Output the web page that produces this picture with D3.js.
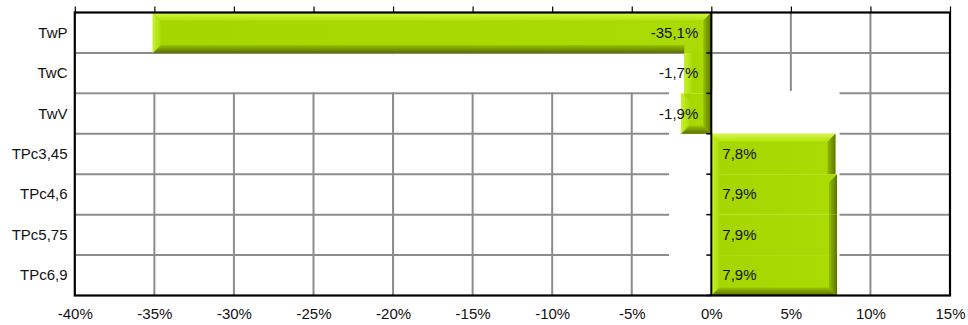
<!DOCTYPE html>
<html>
<head>
<meta charset="utf-8">
<script src="https://cdn.jsdelivr.net/npm/d3@7/dist/d3.min.js"></script>
<style>
  html, body { margin: 0; padding: 0; background: #fff; }
  svg { display: block; }
  text { font-family: "Liberation Sans", Arial, sans-serif; fill: #111; }
</style>
</head>
<body>
<script>
// Change per configuration (fraction)
const categories = ["TwP", "TwC", "TwV", "TPc3,45", "TPc4,6", "TPc5,75", "TPc6,9"];
const values = [-0.351, -0.017, -0.019, 0.078, 0.079, 0.079, 0.079];
const valueLabels = ["-35,1%", "-1,7%", "-1,9%", "7,8%", "7,9%", "7,9%", "7,9%"];
const tickValues = [-0.40, -0.35, -0.30, -0.25, -0.20, -0.15, -0.10, -0.05, 0, 0.05, 0.10, 0.15];
const tickLabels = ["-40%", "-35%", "-30%", "-25%", "-20%", "-15%", "-10%", "-5%", "0%", "5%", "10%", "15%"];

const W = 968, H = 325;
const plot = { left: 74.8, right: 950, top: 12.5, bottom: 295.5 };

const svg = d3.select("body").append("svg")
  .attr("width", W).attr("height", H);

const x = d3.scaleLinear().domain([-0.40, 0.15]).range([plot.left, plot.right]);
const y = d3.scaleBand().domain(categories).range([plot.top, plot.bottom]).padding(0);

// ---- gradients for the bevelled bar edges
const defs = svg.append("defs");
function grad(id, x1, y1, x2, y2, c1, c2) {
  const g = defs.append("linearGradient").attr("id", id)
    .attr("x1", x1).attr("y1", y1).attr("x2", x2).attr("y2", y2);
  g.append("stop").attr("offset", "0%").attr("stop-color", c1);
  g.append("stop").attr("offset", "100%").attr("stop-color", c2);
}
grad("bevTop", 0, 0, 0, 1, "#d6f74a", "#b2e20c");
grad("bevBottom", 0, 1, 0, 0, "#586f00", "#98c300");
grad("bevLeft", 0, 0, 1, 0, "#c8f030", "#abdc06");
grad("bevRight", 1, 0, 0, 0, "#5c7500", "#93bd00");
grad("face", 0, 0, 1, 0, "#a6d600", "#aadb04");

// ---- grid
const grid = svg.append("g");
grid.selectAll("line.v").data(tickValues.slice(1, -1)).join("line")
  .attr("x1", d => x(d)).attr("x2", d => x(d))
  .attr("y1", plot.top).attr("y2", plot.bottom)
  .attr("stroke", "#8c8c8c").attr("stroke-width", 2);
grid.selectAll("line.h").data(categories.slice(1)).join("line")
  .attr("x1", plot.left).attr("x2", plot.right)
  .attr("y1", d => y(d)).attr("y2", d => y(d))
  .attr("stroke", "#8c8c8c").attr("stroke-width", 2);

// ---- white knockouts that break the grid around the short bars
const knock = svg.append("g").attr("fill", "#fff");
// the TwC row is clear on the negative side
knock.append("rect")
  .attr("x", x(-0.40) + 1.5).attr("y", y("TwC") + 1.2)
  .attr("width", x(0) - x(-0.40) - 1.5).attr("height", y.bandwidth() - 2.4);
// a clear block around the small bars from TwV downwards
const lowVals = values.slice(2);
const kx0 = x(d3.min(lowVals)) - 12, kx1 = x(d3.max(lowVals)) + 2.5;
knock.append("rect")
  .attr("x", kx0).attr("y", y("TwV") - 2.5)
  .attr("width", kx1 - kx0).attr("height", plot.bottom - y("TwV") + 1.5);

// ---- bars with bevelled edges
const bars = svg.append("g");
const D = 8;
values.forEach((v, i) => {
  const y0 = y(categories[i]), y1 = y0 + y.bandwidth();
  const x0 = Math.min(x(v), x(0)), x1 = Math.max(x(v), x(0));
  const d = Math.min(D, (x1 - x0) / 2, (y1 - y0) / 2);
  const sameSign = (j) => j >= 0 && j < values.length && Math.sign(values[j]) === Math.sign(v);
  // exposed span of an edge shared with a neighbour of the same sign
  function exposed(j) {
    if (!sameSign(j)) return [x0, x1];
    if (Math.abs(values[j]) >= Math.abs(v)) return null;
    return v < 0 ? [x0, x(values[j])] : [x(values[j]), x1];
  }
  const top = exposed(i - 1), bot = exposed(i + 1);
  const g = bars.append("g");
  g.append("rect").attr("x", x0).attr("y", y0).attr("width", x1 - x0).attr("height", y1 - y0)
    .attr("fill", "url(#face)");
  const poly = (pts, fill) => g.append("polygon")
    .attr("points", pts.map(p => p.join(",")).join(" ")).attr("fill", fill);
  if (top) {
    const [a, b] = top;
    poly([[a, y0], [b, y0], [b - (b === x1 ? d : 0), y0 + d], [a + (a === x0 ? d : 0), y0 + d]], "url(#bevTop)");
  }
  if (bot) {
    const [a, b] = bot;
    poly([[a, y1], [b, y1], [b - (b === x1 ? d : 0), y1 - d], [a + (a === x0 ? d : 0), y1 - d]], "url(#bevBottom)");
  }
  const tl = top && top[0] === x0, bl = bot && bot[0] === x0;
  const tr = top && top[1] === x1, br = bot && bot[1] === x1;
  poly([[x0, y0], [x0 + d, y0 + (tl ? d : 0)], [x0 + d, y1 - (bl ? d : 0)], [x0, y1]], "url(#bevLeft)");
  poly([[x1, y0], [x1 - d, y0 + (tr ? d : 0)], [x1 - d, y1 - (br ? d : 0)], [x1, y1]], "url(#bevRight)");
});

// ---- plot frame
svg.append("rect")
  .attr("x", plot.left).attr("y", plot.top)
  .attr("width", plot.right - plot.left).attr("height", plot.bottom - plot.top)
  .attr("fill", "none").attr("stroke", "#000").attr("stroke-width", 2.2);

// value axis: tick marks on top, labels under the plot
const topAxis = svg.append("g").attr("transform", `translate(0,${plot.top})`)
  .call(d3.axisTop(x).tickValues(tickValues).tickSize(6).tickFormat(""));
topAxis.select(".domain").remove();
topAxis.selectAll(".tick line").attr("stroke", "#000").attr("stroke-width", 1.2);

const botAxis = svg.append("g").attr("transform", `translate(0,${plot.bottom})`)
  .call(d3.axisBottom(x).tickValues(tickValues).tickSize(0).tickPadding(13)
    .tickFormat((d, i) => tickLabels[i]));
botAxis.select(".domain").remove();
botAxis.selectAll("text").attr("font-size", 15).attr("fill", "#111")
  .attr("font-family", "Liberation Sans, Arial, sans-serif");

// category axis sits at zero
svg.append("line")
  .attr("x1", x(0)).attr("x2", x(0)).attr("y1", plot.top).attr("y2", plot.bottom)
  .attr("stroke", "#000").attr("stroke-width", 2);
svg.append("g").selectAll("line").data(categories.slice(1).concat(["__end"])).join("line")
  .attr("x1", x(0) - 5).attr("x2", x(0))
  .attr("y1", d => d === "__end" ? plot.bottom : y(d))
  .attr("y2", d => d === "__end" ? plot.bottom : y(d))
  .attr("stroke", "#000").attr("stroke-width", 1.5);

// category labels
svg.append("g").selectAll("text").data(categories).join("text")
  .attr("x", 67.5).attr("y", d => y(d) + y.bandwidth() / 2 + 5)
  .attr("text-anchor", "end").attr("font-size", 15)
  .text(d => d);

// value labels
svg.append("g").selectAll("text").data(values).join("text")
  .attr("x", v => v < 0 ? x(0) - 13 : x(0) + 11)
  .attr("y", (v, i) => y(categories[i]) + y.bandwidth() / 2 + 5)
  .attr("text-anchor", v => v < 0 ? "end" : "start")
  .attr("font-size", 15)
  .text((v, i) => valueLabels[i]);
</script>
</body>
</html>
